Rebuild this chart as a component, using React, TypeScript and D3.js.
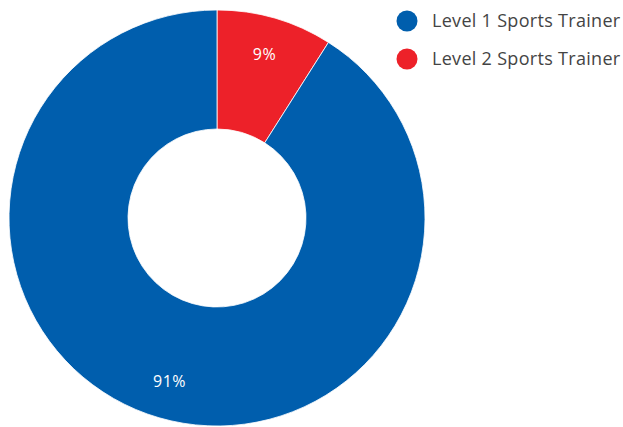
import React from "react";
import * as d3 from "d3";

const categories = ["Level 1 Sports Trainer", "Level 2 Sports Trainer"];
const values = [91, 9];
const labels = ["91%", "9%"];
const colors = ["#005EAD", "#ED2129"];

export default function App() {
  const W = 623, H = 427;
  const cx = 217, cy = 218;
  const outerR = 208, innerR = 89, labelR = 170;
  // order: red slice starts at top (clockwise), then blue
  const order = [1, 0];
  const pie = d3.pie<number>().sort(null).value((i) => values[i]);
  const arcs = pie(order);
  const arc = d3.arc<d3.PieArcDatum<number>>().innerRadius(innerR).outerRadius(outerR);
  const lArc = d3.arc<d3.PieArcDatum<number>>().innerRadius(labelR).outerRadius(labelR);
  const font = "'Open Sans', sans-serif";
  return (
    <svg width={W} height={H} style={{ position: "absolute", left: 0, top: 0 }}>
      <g transform={`translate(${cx},${cy})`}>
        {arcs.map((a) => (
          <path key={a.data} d={arc(a) || ""} fill={colors[a.data]} stroke="#fff" strokeWidth={0.8} />
        ))}
        {arcs.map((a) => {
          const [x, y] = lArc.centroid(a);
          return (
            <text key={"l" + a.data} x={x} y={y} dy="0.35em" textAnchor="middle" fill="#fff" fontFamily={font} fontSize={16} letterSpacing={0.5}>
              {labels[a.data]}
            </text>
          );
        })}
      </g>
      {categories.map((c, i) => (
        <g key={c} transform={`translate(407,${21 + i * 38})`}>
          <circle r={10.5} fill={colors[i]} />
          <text x={25} dy="0.35em" fill="#444" fontFamily={font} fontSize={18} letterSpacing={0.3}>
            {c}
          </text>
        </g>
      ))}
    </svg>
  );
}
